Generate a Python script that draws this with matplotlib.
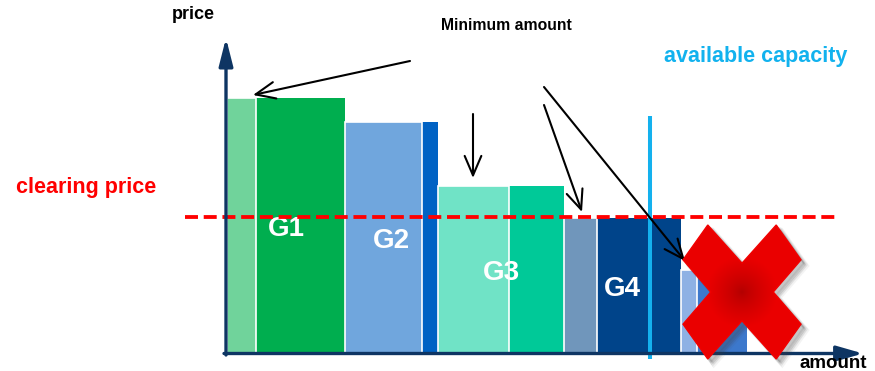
import numpy as np
import matplotlib
matplotlib.use('Agg')
import matplotlib.pyplot as plt
from matplotlib.patches import Polygon

plt.rcParams['font.family'] = ['Liberation Sans', 'DejaVu Sans']

# ---------------- data ----------------
generators = ['G1', 'G2', 'G3', 'G4', 'G5']
min_amount = [2.9, 7.7, 7.1, 3.3, 1.6]       # minimum amount block of each offer
extra_amount = [8.9, 1.6, 5.5, 8.4, 5.0]     # remaining amount of each offer
bid_price = [25.5, 23.1, 16.7, 13.5, 8.3]
clearing_price = 13.6
available_capacity = 42.3

min_colors = ['#70D39B', '#70A6DD', '#70E3C6', '#7096BB', '#8EB1E4']
main_colors = ['#00AE4F', '#0062C4', '#00C998', '#00448A', '#3C78CC']

W, H = 875, 371
fig = plt.figure(figsize=(W / 100, H / 100), dpi=100)
fig.patch.set_facecolor('white')
ax = fig.add_axes([227 / W, 18 / H, 638 / W, 315 / H])
XMAX, YMAX = 63.8, 31.5


def fx(px):
    return px / W


def fy(py):
    return 1 - py / H


# ---------------- bars ----------------
left = 0.0
for i, g in enumerate(generators):
    total = min_amount[i] + extra_amount[i]
    ax.bar(left, bid_price[i], width=total, align='edge', color=main_colors[i],
           edgecolor='none', zorder=2)
    ax.bar(left, bid_price[i], width=min_amount[i], align='edge', color=min_colors[i],
           edgecolor='white', linewidth=1.2, zorder=3)
    ax.text(left + total / 2, bid_price[i] / 2 - 0.3, g, color='white', fontsize=20,
            fontweight='bold', ha='center', va='center', zorder=4)
    left += total

# clearing price (dashed red)
ax.plot([-4.2, 61.0], [clearing_price, clearing_price], color='#FF0000', lw=2.75,
        dashes=(3.4, 1.5), clip_on=False, zorder=5)

# available capacity (vertical light blue)
ax.plot([available_capacity, available_capacity], [-0.6, 23.7], color='#14B1EE',
        lw=2.9, clip_on=False, zorder=5, solid_capstyle='butt')

navy = '#0E3563'
# y axis arrow
ax.annotate('', xy=(-0.1, YMAX), xytext=(-0.1, -0.2), annotation_clip=False,
            arrowprops=dict(arrowstyle='-|>,head_length=1.66,head_width=0.42',
                            color=navy, lw=2.4, shrinkA=0, shrinkB=0,
                            mutation_scale=10), zorder=6)
# x axis arrow
ax.annotate('', xy=(63.6, -0.05), xytext=(-0.3, -0.05), annotation_clip=False,
            arrowprops=dict(arrowstyle='-|>,head_length=1.6,head_width=0.46',
                            color=navy, lw=2.4, shrinkA=0, shrinkB=0,
                            mutation_scale=10), zorder=6)

# "minimum amount" arrows
arrow_pairs = [((18.3, 29.2), (2.6, 25.8)),
               ((24.6, 23.9), (24.6, 17.5)),
               ((31.7, 24.8), (35.5, 14.1)),
               ((31.7, 26.6), (45.8, 9.2))]
for start, end in arrow_pairs:
    ax.annotate('', xy=end, xytext=start, annotation_clip=False,
                arrowprops=dict(arrowstyle='->,head_length=1.4,head_width=0.6',
                                color='black', lw=1.5, shrinkA=0, shrinkB=0,
                                mutation_scale=10), zorder=7)

# ---------------- red cross ----------------
cx, cy, sx, sy = 51.5, 6.1, 5.9, 6.7
ax_, ay_, bx_, by_ = 0.42, 0.52, 0.53, 0.43
unit = [(-1, -1 + ay_), (-1 + ax_, -1), (0, -by_), (1 - ax_, -1), (1, -1 + ay_),
        (bx_, 0), (1, 1 - ay_), (1 - ax_, 1), (0, by_), (-1 + ax_, 1), (-1, 1 - ay_),
        (-bx_, 0)]
pts = [(cx + sx * u, cy + sy * v) for u, v in unit]
# soft shadow
for k, (off, alp) in enumerate([(0.6, 0.06), (0.5, 0.07), (0.4, 0.09), (0.3, 0.11)]):
    sh = Polygon([(x + off, y - off) for x, y in pts], closed=True, facecolor='#404040',
                 edgecolor='#404040', lw=3 - k * 0.6, alpha=alp, zorder=8,
                 clip_on=False)
    ax.add_patch(sh)
poly = Polygon(pts, closed=True, facecolor='none', edgecolor='#F20000', lw=1.0,
               zorder=10, clip_on=False)
ax.add_patch(poly)
n = 240
U, V = np.meshgrid(np.linspace(-1, 1, n), np.linspace(-1, 1, n))
R = np.sqrt((U * sx) ** 2 + (V * sy) ** 2)
t = np.clip(R / 3.6, 0, 1) ** 0.7
dark = np.array([0.69, 0.0, 0.0])
bright = np.array([0.92, 0.0, 0.0])
img = dark + (bright - dark) * t[..., None]
im = ax.imshow(img, extent=[cx - sx, cx + sx, cy - sy, cy + sy], origin='lower',
               interpolation='bilinear', zorder=9)
im.set_clip_path(poly)
im.set_clip_box(fig.bbox)

ax.set_aspect('auto')
ax.set_xlim(0, XMAX)
ax.set_ylim(0, YMAX)
ax.axis('off')

# ---------------- texts ----------------
fig.text(fx(193.5), fy(19), 'price', fontsize=13, fontweight='bold', color='black',
         ha='center', va='baseline')
fig.text(fx(506), fy(30), 'Minimum amount', fontsize=11.3, fontweight='bold',
         color='black', ha='center', va='baseline')
fig.text(fx(756), fy(62), 'available capacity', fontsize=15.5, fontweight='bold',
         color='#12B2EE', ha='center', va='baseline')
fig.text(fx(86.5), fy(193), 'clearing price', fontsize=15.5, fontweight='bold',
         color='#FF0000', ha='center', va='baseline')
fig.text(fx(833), fy(368), 'amount', fontsize=13.5, fontweight='bold', color='black',
         ha='center', va='baseline')

fig.savefig('out.png', dpi=100, facecolor='white')
